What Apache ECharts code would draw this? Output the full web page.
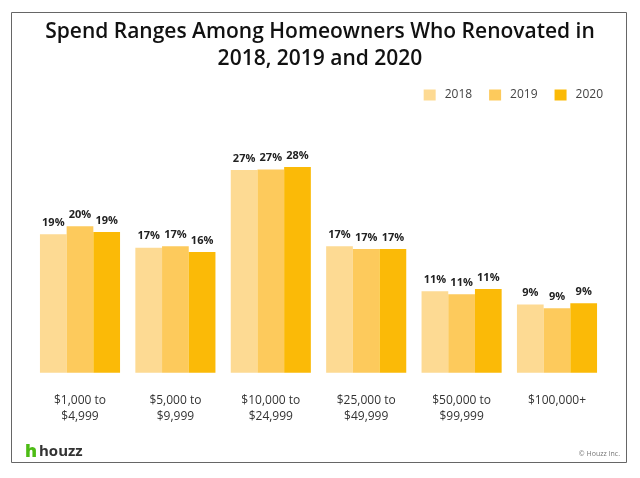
<!DOCTYPE html>
<html>
<head>
<meta charset="utf-8">
<script src="https://cdn.jsdelivr.net/npm/echarts@6/dist/echarts.min.js"></script>
<style>
html,body{margin:0;padding:0;background:#fff;}
#chart{width:640px;height:478px;}
</style>
</head>
<body>
<div id="chart"></div>
<script>
const categories = ['$1,000 to\n$4,999', '$5,000 to\n$9,999', '$10,000 to\n$24,999', '$25,000 to\n$49,999', '$50,000 to\n$99,999', '$100,000+'];
const seriesNames = ['2018', '2019', '2020'];
const values2018 = [18.7, 16.9, 27.4, 17.1, 11.0, 9.2];
const values2019 = [19.8, 17.1, 27.45, 16.7, 10.6, 8.7];
const values2020 = [19.0, 16.3, 27.8, 16.7, 11.3, 9.4];
const colors = ['#FDDA93', '#FDCA5C', '#FBBA07'];

const chart = echarts.init(document.getElementById('chart'), null, {renderer: 'canvas'});
const font = '"Open Sans", Lato, sans-serif';

function mk(name, data, color) {
  return {
    name: name,
    type: 'bar',
    data: data,
    barWidth: 26.7,
    barGap: '0%',
    barCategoryGap: '16%',
    itemStyle: {color: color},
    label: {
      show: true,
      position: 'top',
      distance: 6,
      formatter: p => Math.round(p.value) + '%',
      fontFamily: font,
      fontWeight: 'bold',
      fontSize: 11,
      color: '#222'
    }
  };
}

chart.setOption({
  animation: false,
  backgroundColor: '#fff',
  title: {
    text: 'Spend Ranges Among Homeowners Who Renovated in\n2018, 2019 and 2020',
    left: 'center',
    top: 14,
    textStyle: {fontFamily: font, fontWeight: 600, fontSize: 21, color: '#111', lineHeight: 27}
  },
  legend: {
    right: 32,
    top: 84,
    itemWidth: 12,
    itemHeight: 11,
    itemGap: 17,
    icon: 'rect',
    textStyle: {fontFamily: font, fontSize: 12, color: '#444', padding: [0,0,0,4]},
    data: seriesNames
  },
  grid: {left: 32.3, right: 35.3, top: 150.7, height: 222},
  xAxis: {
    type: 'category',
    data: categories,
    axisLine: {show: false},
    axisTick: {show: false},
    axisLabel: {fontFamily: font, fontSize: 12, color: '#333', lineHeight: 16, margin: 20}
  },
  yAxis: {
    type: 'value',
    min: 0,
    max: 30,
    show: false
  },
  series: [
    mk(seriesNames[0], values2018, colors[0]),
    mk(seriesNames[1], values2019, colors[1]),
    mk(seriesNames[2], values2020, colors[2])
  ],
  graphic: [
    {type: 'rect', shape: {x: 11.5, y: 12.5, width: 615, height: 450}, style: {fill: null, stroke: '#666', lineWidth: 1}, silent: true},
    {type: 'text', left: 25, top: 443, style: {text: 'h', fontFamily: font, fontWeight: 800, fontSize: 18, fill: '#4DBC15'}},
    {type: 'text', left: 39, top: 444, style: {text: 'houzz', fontFamily: font, fontWeight: 'bold', fontSize: 15, fill: '#333'}},
    {type: 'text', right: 20, top: 450, style: {text: '© Houzz Inc.', fontFamily: font, fontSize: 7, fill: '#777'}}
  ]
});
</script>
</body>
</html>
